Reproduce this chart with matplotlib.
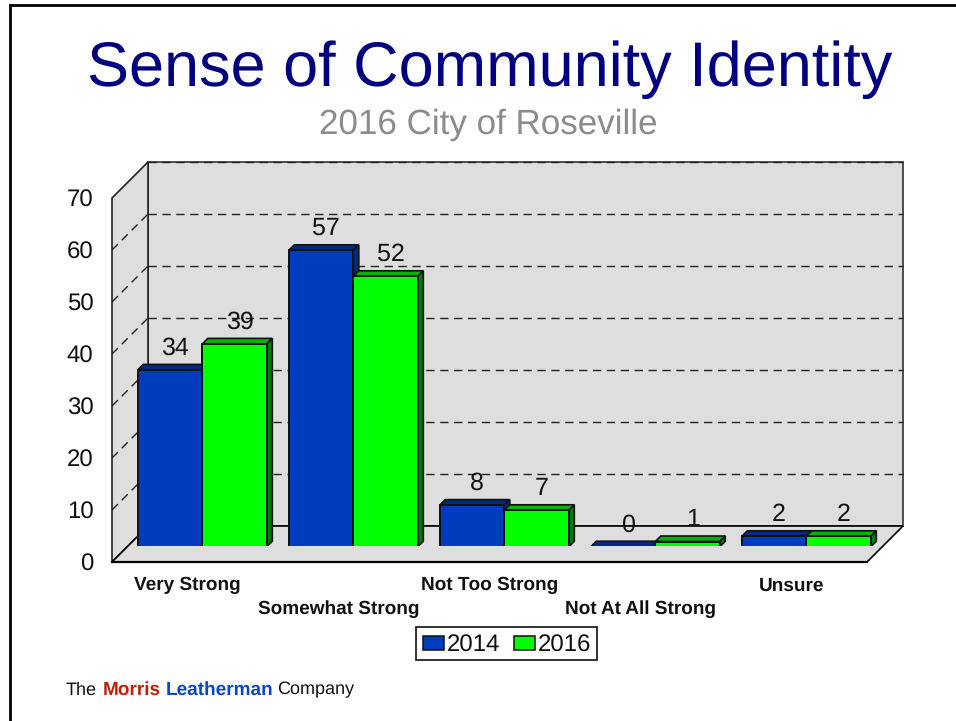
import matplotlib
matplotlib.use("Agg")
import matplotlib.pyplot as plt
from matplotlib.patches import Polygon, Rectangle

plt.rcParams['font.family'] = ['Liberation Sans', 'DejaVu Sans']
plt.rcParams['text.hinting'] = 'no_hinting'
plt.rcParams['text.hinting_factor'] = 1

categories = ['Very Strong', 'Somewhat Strong', 'Not Too Strong', 'Not At All Strong', 'Unsure']
values_2014 = [34, 57, 8, 0, 2]
values_2016 = [39, 52, 7, 1, 2]
y_ticks = [0, 10, 20, 30, 40, 50, 60, 70]

W, H = 956, 721
SLOT_PX = 151.0
UNIT_PX = 5.2
BAR_W = 0.4272  # width of one bar in slots


def dx(px):
    return px / SLOT_PX


def dy(px):
    return px / UNIT_PX


def draw_bar(ax, x, val, face, top, side):
    """Oblique 3d bar, front face in the data plane"""
    d = 5.5
    y0 = dy(-0.7)  # bars sit a touch under the plane
    y1 = val + y0
    ax.add_patch(Polygon([(x, y1), (x + dx(d), y1 + dy(d)), (x + BAR_W + dx(d), y1 + dy(d)), (x + BAR_W, y1)],
                         facecolor=top, edgecolor='#111111', lw=1.2, zorder=4))
    ax.add_patch(Polygon([(x + BAR_W, y0), (x + BAR_W + dx(d), y0 + dy(d)), (x + BAR_W + dx(d), y1 + dy(d)), (x + BAR_W, y1)],
                         facecolor=side, edgecolor='#111111', lw=1.2, zorder=4))
    ax.add_patch(Rectangle((x, y0), BAR_W, val, facecolor=face, edgecolor='#111111', lw=1.4, zorder=5))


fig = plt.figure(figsize=(W / 100, H / 100), dpi=100)
bg = fig.add_axes([0, 0, 1, 1])
bg.set_xlim(0, W)
bg.set_ylim(H, 0)
bg.axis('off')
# slide frame
bg.plot([10, 10, W], [H, 5, 5], color='black', lw=2.0, solid_joinstyle='miter')

fig.text(490 / W, 1 - 70 / H, 'Sense of Community Identity', color='#000080', fontsize=45.1, ha='center', va='center')
fig.text(488 / W, 1 - 125 / H, '2016 City of Roseville', color='#8c8c8c', fontsize=25, ha='center', va='center')

# axes plane is the one the bar fronts stand on
ax = fig.add_axes([128 / W, 1 - 546 / H, 755 / W, 364 / H])
ax.set_xlim(-0.5, 4.5)
ax.set_ylim(0, 70)
ax.axis('off')

x0, x1 = -0.5, 4.5
front, back = -16, 20
ymax = y_ticks[-1]

# floor and walls
ax.add_patch(Polygon([(x0 + dx(back), dy(back)), (x1 + dx(back), dy(back)), (x1 + dx(back), ymax + dy(back)),
                      (x0 + dx(back), ymax + dy(back))], facecolor='#dedede', edgecolor='#333333', lw=1.2, zorder=1, clip_on=False))
ax.add_patch(Polygon([(x0 + dx(front), dy(front)), (x0 + dx(back), dy(back)), (x0 + dx(back), ymax + dy(back)),
                      (x0 + dx(front), ymax + dy(front))], facecolor='#dedede', edgecolor='#222222', lw=1.2, zorder=1, clip_on=False))
ax.add_patch(Polygon([(x0 + dx(front), dy(front)), (x1 + dx(front), dy(front)), (x1 + dx(back), dy(back)),
                      (x0 + dx(back), dy(back))], facecolor='#dedede', edgecolor='black', lw=1.2, zorder=2, clip_on=False))
ax.plot([x0 + dx(front), x1 + dx(front)], [dy(front), dy(front)], color='black', lw=1.6, zorder=3, clip_on=False)

# gridlines on both walls, the top one lies over the wall edge
for t in y_ticks[1:]:
    ax.plot([x0 + dx(back), x1 + dx(back)], [t + dy(back)] * 2, color='#222222', lw=1, dashes=(6, 4), zorder=2, clip_on=False)
    if t < ymax:
        ax.plot([x0 + dx(front), x0 + dx(back)], [t + dy(front), t + dy(back)], color='#222222', lw=1, dashes=(6, 4), zorder=2, clip_on=False)

for t in y_ticks:
    ax.text(x0 + dx(front - 18.5), t + dy(front - 3), str(t), fontsize=17.5, ha='right', va='center', color='#111111', clip_on=False)

for i, cat in enumerate(categories):
    left = i - BAR_W - dx(1.2)
    right = i - dx(1.2)
    draw_bar(ax, left, values_2014[i], '#003cbe', '#002a80', '#002a80')
    draw_bar(ax, right, values_2016[i], '#00ff00', '#00b400', '#007d00')
    ax.text(left + BAR_W / 2 + dx(5), values_2014[i] + dy(21), str(values_2014[i]), fontsize=18, ha='center', va='center', color='#111111', zorder=6)
    ax.text(right + BAR_W / 2 + dx(5), values_2016[i] + dy(21), str(values_2016[i]), fontsize=18, ha='center', va='center', color='#111111', zorder=6)
    # labels alternate between two rows
    row = 39.5 if i % 2 == 0 else 63
    ax.text(i - dx(16), dy(-row), cat, fontsize=13.5, fontweight='bold', ha='center', va='center', color='#111111')

# legend
bg.add_patch(Rectangle((416, 627), 181, 33, facecolor='white', edgecolor='#111111', lw=1.2))
bg.add_patch(Rectangle((423, 636), 21, 14, facecolor='#003cbe', edgecolor='#111111', lw=1.1))
bg.add_patch(Rectangle((514, 636), 21, 14, facecolor='#00ff00', edgecolor='#111111', lw=1.1))
bg.text(447, 646, '2014', fontsize=17.5, va='center', color='#111111')
bg.text(538, 646, '2016', fontsize=17.5, va='center', color='#111111')

# footer
bg.text(66, 690, 'The', fontsize=13.3, va='center', color='#111111')
bg.text(103, 689.5, 'Morris', fontsize=13.5, fontweight='bold', va='center', color='#c0200a')
bg.text(166, 689.5, 'Leatherman', fontsize=13.5, fontweight='bold', va='center', color='#0a46c8')
bg.text(277, 690, 'Company', fontsize=13.3, va='center', color='#111111')

fig.savefig('out.png', dpi=100)
